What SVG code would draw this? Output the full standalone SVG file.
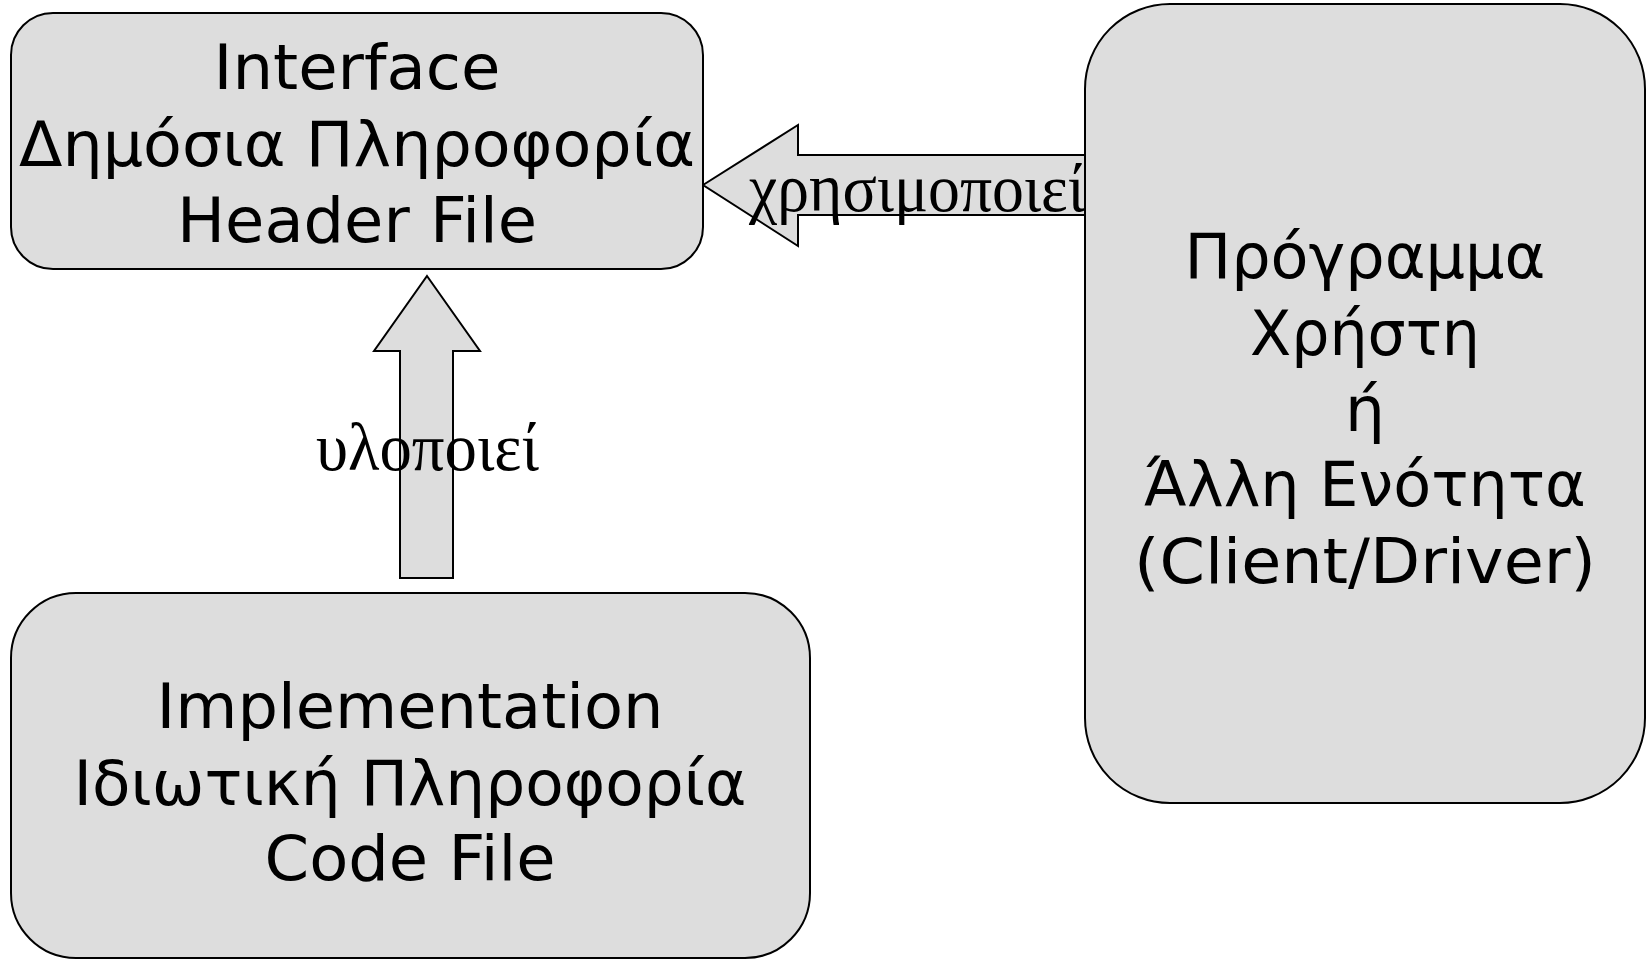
<svg xmlns="http://www.w3.org/2000/svg" width="1650" height="960" viewBox="0 0 1650 960">
  <style>
    .box { fill: #dddddd; stroke: #000000; stroke-width: 2; }
    .arrow { fill: #dddddd; stroke: #000000; stroke-width: 2; stroke-linejoin: miter; }
    .lbl { font-family: "DejaVu Sans", "Liberation Sans", sans-serif; font-size: 63px; fill: #000000; text-anchor: middle; }
    .edge { font-family: "Liberation Serif", "DejaVu Serif", serif; font-size: 68px; fill: #000000; }
  </style>

  <!-- connectors: block arrows -->
  <g id="connectors">
    <g id="uses">
      <polygon class="arrow" points="703,185 798,125 798,155 1085,155 1085,215 798,215 798,246"/>
      <text class="edge" x="749" y="211" textLength="336" lengthAdjust="spacingAndGlyphs">χρησιμοποιεί</text>
    </g>
    <g id="implements">
      <polygon class="arrow" points="427,276 480,351 453,351 453,578 400,578 400,351 374,351"/>
      <text class="edge" x="316" y="470" textLength="223" lengthAdjust="spacingAndGlyphs">υλοποιεί</text>
    </g>
  </g>

  <!-- interface node -->
  <g id="interface">
    <rect class="box" x="11" y="13" width="692" height="256" rx="42" ry="42"/>
    <text class="lbl" x="357" y="89" textLength="287" lengthAdjust="spacingAndGlyphs">Interface</text>
    <text class="lbl" x="357" y="166" textLength="676" lengthAdjust="spacingAndGlyphs">Δημόσια Πληροφορία</text>
    <text class="lbl" x="357" y="242" textLength="360" lengthAdjust="spacingAndGlyphs">Header File</text>
  </g>

  <!-- implementation node -->
  <g id="implementation">
    <rect class="box" x="11" y="593" width="799" height="365" rx="65" ry="65"/>
    <text class="lbl" x="410" y="728" textLength="507" lengthAdjust="spacingAndGlyphs">Implementation</text>
    <text class="lbl" x="410" y="805" textLength="673" lengthAdjust="spacingAndGlyphs">Ιδιωτική Πληροφορία</text>
    <text class="lbl" x="410" y="880" textLength="291" lengthAdjust="spacingAndGlyphs">Code File</text>
  </g>

  <!-- client node -->
  <g id="client">
    <rect class="box" x="1085" y="4" width="560" height="799" rx="85" ry="85"/>
    <text class="lbl" x="1365" y="278" textLength="361" lengthAdjust="spacingAndGlyphs">Πρόγραμμα</text>
    <text class="lbl" x="1365" y="355" textLength="230" lengthAdjust="spacingAndGlyphs">Χρήστη</text>
    <text class="lbl" x="1365" y="431">ή</text>
    <text class="lbl" x="1365" y="506" textLength="442" lengthAdjust="spacingAndGlyphs">Άλλη Ενότητα</text>
    <text class="lbl" x="1365" y="583" textLength="462" lengthAdjust="spacingAndGlyphs">(Client/Driver)</text>
  </g>
</svg>
